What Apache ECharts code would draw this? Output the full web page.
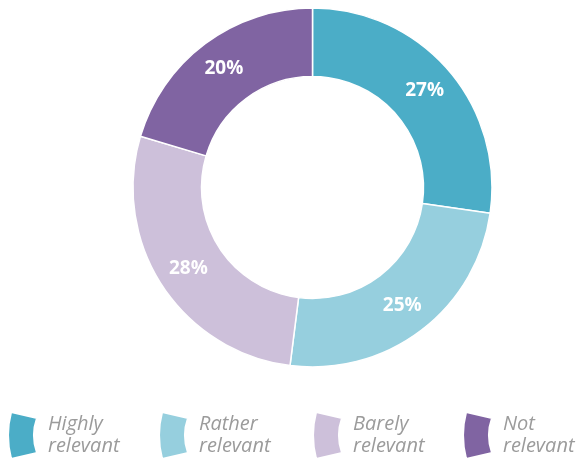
<!DOCTYPE html>
<html>
<head>
<meta charset="utf-8">
<script src="https://cdn.jsdelivr.net/npm/echarts@6/dist/echarts.min.js"></script>
<style>
  html, body { margin: 0; padding: 0; background: #fff; }
  #chart { width: 577px; height: 462px; }
</style>
</head>
<body>
<div id="chart"></div>
<script>
// categories and shares (%)
const categories = ['Highly relevant', 'Rather relevant', 'Barely relevant', 'Not relevant'];
const shares = [27.3, 24.7, 27.6, 20.4];
const colors = ['#4badc7', '#96cfde', '#cdc0da', '#8064a2'];

// ring-segment shaped legend marker
const segIcon = 'path://M3 0 L28 6 Q22 23 28 40 L3 46 Q-3 23 3 0 Z';
const legendLeft = [7, 158, 312, 462];

const chart = echarts.init(document.getElementById('chart'));

const legends = categories.map((name, i) => ({
  data: [name],
  left: legendLeft[i],
  top: 411,
  padding: 0,
  orient: 'horizontal',
  icon: segIcon,
  symbolKeepAspect: false,
  itemWidth: 29,
  itemHeight: 47,
  selectedMode: false,
  textStyle: {
    color: '#9b9b9b',
    fontStyle: 'italic',
    fontFamily: 'Open Sans',
    fontSize: 20,
    lineHeight: 22,
    padding: [0, 0, 0, 6]
  },
  formatter: n => n.replace(' ', '\n')
}));

const option = {
  animation: false,
  color: colors,
  legend: legends,
  series: [
    {
      type: 'pie',
      center: [312.5, 187.5],
      radius: [111, 179.5],
      startAngle: 90,
      clockwise: true,
      itemStyle: { borderColor: '#fff', borderWidth: 1.5 },
      label: {
        position: 'inside',
        color: '#fff',
        fontFamily: 'Open Sans',
        fontWeight: 'bold',
        fontSize: 19,
        formatter: p => Math.round(p.value) + '%'
      },
      labelLine: { show: false },
      data: categories.map((name, i) => ({ name, value: shares[i] }))
    }
  ]
};

chart.setOption(option);
</script>
</body>
</html>
